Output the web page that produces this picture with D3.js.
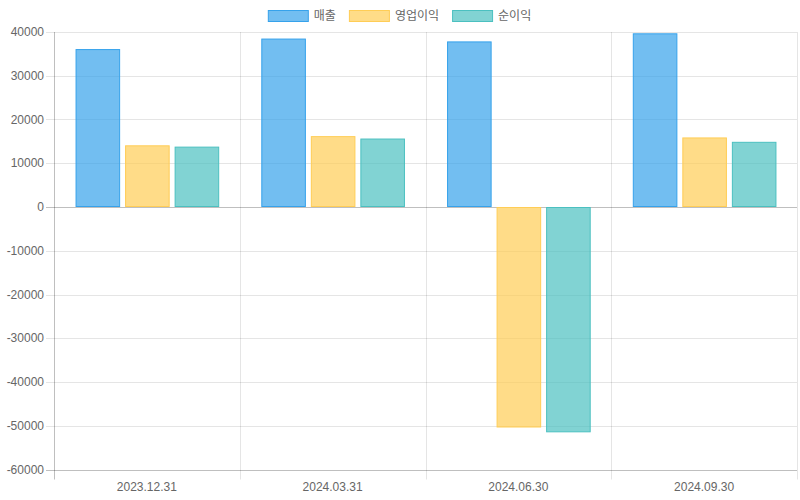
<!DOCTYPE html>
<html><head><meta charset="utf-8">
<script src="https://cdn.jsdelivr.net/npm/d3@7/dist/d3.min.js"></script>
<style>body{margin:0;background:#fff}svg text{font-family:"Liberation Sans","Noto Sans CJK KR",Arial,sans-serif;}</style>
</head><body><svg id="c" width="800" height="500"></svg>
<script>
const categories = ["2023.12.31","2024.03.31","2024.06.30","2024.09.30"];
const seriesNames = ["매출","영업이익","순이익"];
const sales = [36100, 38500, 37850, 39700];
const opProfit = [14100, 16200, -50400, 15900];
const netProfit = [13800, 15650, -51500, 14900];
const yTicks = [40000,30000,20000,10000,0,-10000,-20000,-30000,-40000,-50000,-60000];
const fills = ["rgba(54,162,235,0.7)","rgba(255,205,86,0.7)","rgba(75,192,192,0.7)"];
const strokes = ["rgb(54,162,235)","rgb(255,205,86)","rgb(75,192,192)"];
const series = [sales, opProfit, netProfit];

const svg = d3.select("#c");
const L=54, R=797, T=32, B=469.5;
const x = d3.scaleBand().domain(categories).range([L,R]).paddingInner(0).paddingOuter(0);
const y = d3.scaleLinear().domain([-60000,40000]).range([B,T]);
const inner = d3.scaleBand().domain(d3.range(3)).range([0, x.bandwidth()*0.8]);

// grid
const g = svg.append("g");
yTicks.forEach(t=>{
  const isZero = t===0 || t===-60000;
  g.append("line").attr("x1",L-8).attr("x2",R).attr("y1",Math.round(y(t))+0.5).attr("y2",Math.round(y(t))+0.5)
   .attr("stroke", isZero? "rgba(0,0,0,0.25)":"rgba(0,0,0,0.1)");
  g.append("text").attr("x",L-10).attr("y",y(t)).attr("dy","0.35em").attr("text-anchor","end")
   .attr("font-size",12).attr("fill","#666").text(t);
});
const vlines = categories.map(c=>x(c)).concat([R]);
vlines.forEach((v,i)=>{
  g.append("line").attr("x1",Math.round(v)+0.5).attr("x2",Math.round(v)+0.5).attr("y1",T).attr("y2",B+10)
   .attr("stroke", i===0? "rgba(0,0,0,0.25)":"rgba(0,0,0,0.1)");
});
categories.forEach(c=>{
  g.append("text").attr("x",x(c)+x.bandwidth()/2).attr("y",487).attr("dy","0.35em").attr("text-anchor","middle")
   .attr("font-size",12).attr("fill","#666").text(c);
});

// bars
series.forEach((vals,si)=>{
  svg.append("g").selectAll("rect").data(vals).join("rect")
    .attr("x",(d,i)=>x(categories[i])+x.bandwidth()*0.1+inner(si)+inner.bandwidth()*0.05+1)
    .attr("width",inner.bandwidth()*0.9-1)
    .attr("y",d=>Math.min(y(d),y(0))+0.5)
    .attr("height",d=>Math.abs(y(d)-y(0))-1)
    .attr("fill",fills[si]).attr("stroke",strokes[si]).attr("stroke-width",1);
});

// legend
const lg = svg.append("g");
let widths = [];
const tmp = svg.append("text").attr("font-size",12);
seriesNames.forEach(n=>{tmp.text(n); widths.push(tmp.node().getComputedTextLength()+1);});
tmp.remove();
const itemW = widths.map(w=>40+6+w);
const total = d3.sum(itemW)+12*(itemW.length-1);
let cx = 400 - total/2;
seriesNames.forEach((n,i)=>{
  lg.append("rect").attr("x",cx+0.5).attr("y",10.5).attr("width",40).attr("height",11)
    .attr("fill",fills[i]).attr("stroke",strokes[i]);
  lg.append("text").attr("x",cx+46).attr("y",16).attr("dy","0.35em").attr("font-size",12).attr("fill","#666").text(n);
  cx += itemW[i]+12;
});
</script></body></html>
